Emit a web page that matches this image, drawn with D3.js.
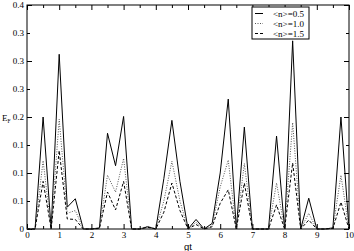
<!DOCTYPE html>
<html>
  <head>
    <script src="https://d3js.org/d3.v7.min.js"></script>
    <style>
      body {margin: 0; background: #fff;}
      .tick text {font-family: "Liberation Serif", serif; font-size: 9px;}
      #lines path {fill: none; stroke-width: 1px;}
    </style>
  </head>
  <body>
    <svg id="chart" width="354" height="251"></svg>
  </body>
  <script>
      let width = 354, height = 251, margins = {top: 5, bottom: 22, left: 27, right: 5};

      // gt sampled every 0.25
      let gt = d3.range(0, 10.001, 0.25);
      let seriesNames = ["<n>=0.5", "<n>=1.0", "<n>=1.5"];
      let ef05 = [0, 0, 0.200, 0, 0.312, 0.039, 0.054, 0, 0, 0.002, 0.171, 0.113, 0.201, 0, 0, 0.004, 0,
                  0.090, 0.194, 0.085, 0, 0.017, 0, 0.010, 0.100, 0.232, 0, 0.182, 0, 0, 0, 0.166, 0,
                  0.336, 0, 0.055, 0, 0, 0.002, 0.200, 0];
      let ef10 = [0, 0, 0.122, 0, 0.196, 0.028, 0.033, 0, 0, 0.001, 0.096, 0.066, 0.126, 0, 0, 0.005, 0,
                  0.050, 0.121, 0.050, 0, 0.012, 0, 0.006, 0.075, 0.123, 0, 0.117, 0, 0, 0, 0.082, 0,
                  0.190, 0, 0.028, 0, 0, 0.001, 0.096, 0];
      let ef15 = [0, 0, 0.085, 0, 0.140, 0.018, 0.017, 0, 0, 0.001, 0.066, 0.034, 0.085, 0, 0, 0.003, 0,
                  0.030, 0.082, 0.033, 0, 0.008, 0, 0.004, 0.046, 0.070, 0, 0.082, 0, 0, 0, 0.043, 0,
                  0.118, 0, 0.016, 0, 0, 0.001, 0.048, 0];
      let xTicks = [0, 1, 2, 3, 4, 5, 6, 7, 8, 9, 10];
      let yTicks = [0, 0.1, 0.2, 0.3, 0.4];
      let dashes = ["none", "1,1.5", "3,2"];
      let colors = ["#000", "#555", "#000"];

      let svg = d3.select("#chart");
      let x = d3.scaleLinear().domain([0, 10]).range([margins.left, width - margins.right]);
      let y = d3.scaleLinear().domain([0, 0.4]).range([height - margins.bottom, margins.top]);

      // frame
      svg.append("rect")
          .attr("x", x(0)).attr("y", y(0.4))
          .attr("width", x(10) - x(0)).attr("height", y(0) - y(0.4))
          .attr("fill", "none").attr("stroke", "#000").attr("stroke-width", 1);

      // inward ticks on all four sides
      function ticks(axis, vals, len, labels) {
          return axis.tickValues(vals).tickSize(-len).tickSizeOuter(0)
              .tickFormat(labels ? d3.format("") : "");
      }
      let xMinor = d3.range(0.5, 10, 1), yMinor = [0.05, 0.15, 0.25, 0.35];

      let gB = svg.append("g").attr("transform", `translate(0,${y(0)})`);
      gB.call(ticks(d3.axisBottom(x), xTicks, 5, true));
      gB.append("g").call(ticks(d3.axisBottom(x), xMinor, 3, false));
      let gT = svg.append("g").attr("transform", `translate(0,${y(0.4)})`);
      gT.call(ticks(d3.axisTop(x), xTicks, 5, false));
      gT.append("g").call(ticks(d3.axisTop(x), xMinor, 3, false));
      let gL = svg.append("g").attr("transform", `translate(${x(0)},0)`);
      gL.call(ticks(d3.axisLeft(y), yTicks, 5, true));
      gL.append("g").call(ticks(d3.axisLeft(y), yMinor, 3, false));
      let gR = svg.append("g").attr("transform", `translate(${x(10)},0)`);
      gR.call(ticks(d3.axisRight(y), yTicks, 5, false));
      gR.append("g").call(ticks(d3.axisRight(y), yMinor, 3, false));

      svg.selectAll(".domain").remove();
      gB.selectAll(".tick text").attr("y", 3).attr("dy", "0.71em");
      gL.selectAll(".tick text").attr("x", -3);
      gL.selectAll(".tick text").text(d => d === 0 ? "0" : d3.format(".1f")(d));

      // lines
      let line = d3.line().x((d, i) => x(gt[i])).y(d => y(d));
      svg.append("g").attr("id", "lines").selectAll("path")
          .data([ef05, ef10, ef15]).enter().append("path")
          .attr("d", line)
          .attr("stroke", (d, i) => colors[i])
          .attr("stroke-dasharray", (d, i) => dashes[i]);

      // axis labels
      svg.append("text").attr("x", x(5)).attr("y", 250)
          .attr("text-anchor", "middle")
          .style("font-family", "Liberation Sans, sans-serif").style("font-size", "9.5px")
          .text("gt");
      let yl = svg.append("text").attr("x", 2).attr("y", 121)
          .style("font-family", "Liberation Serif, serif").style("font-size", "9px");
      yl.append("tspan").text("E");
      yl.append("tspan").attr("dy", 2).style("font-size", "5.5px").text("F");

      // legend
      let lg = svg.append("g").attr("transform", "translate(252,7)");
      lg.append("rect").attr("width", 57).attr("height", 32)
          .attr("fill", "#fff").attr("stroke", "#000").attr("stroke-width", 1);
      seriesNames.forEach((name, i) => {
          let yy = 6.5 + i * 10;
          lg.append("line").attr("x1", 3).attr("x2", 11).attr("y1", yy).attr("y2", yy)
              .attr("stroke", colors[i]).attr("stroke-dasharray", dashes[i]);
          lg.append("text").attr("x", 21).attr("y", yy + 3)
              .style("font-family", "Liberation Serif, serif").style("font-size", "9px")
              .text(name);
      });
  </script>
</html>
